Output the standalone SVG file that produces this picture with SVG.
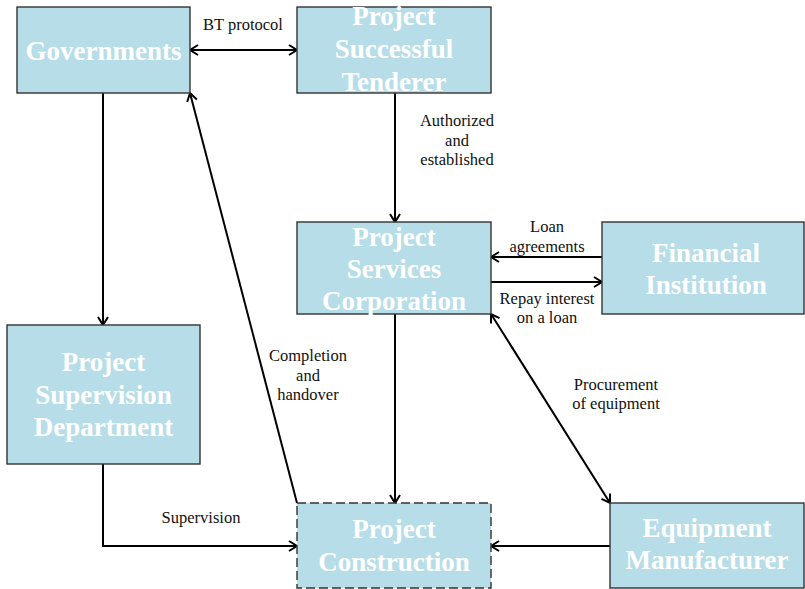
<svg xmlns="http://www.w3.org/2000/svg" width="805" height="589" viewBox="0 0 805 589">
  <style>
    .box { fill: #b7dde8; stroke: #333; stroke-width: 1.4; }
    .dashed { stroke-dasharray: 9 4; }
    .title { font-family: "Liberation Serif", "Times New Roman", serif; font-weight: bold; font-size: 27px; fill: #ffffff; text-anchor: middle; }
    .label { font-family: "Liberation Serif", "Times New Roman", serif; font-size: 16.5px; fill: #111; text-anchor: middle; }
    .conn { fill: none; stroke: #000; stroke-width: 2; }
  </style>
  <defs>
    <marker id="arrow" markerUnits="userSpaceOnUse" markerWidth="14" markerHeight="14" refX="9" refY="6" orient="auto-start-reverse">
      <path d="M1,1 L9,6 L1,11" fill="none" stroke="#000" stroke-width="2"/>
    </marker>
  </defs>

  <!-- connectors -->
  <g id="connectors">
    <line class="conn" x1="190" y1="50" x2="297" y2="50" marker-start="url(#arrow)" marker-end="url(#arrow)"/>
    <line class="conn" x1="103" y1="93" x2="103" y2="325" marker-end="url(#arrow)"/>
    <line class="conn" x1="395" y1="93" x2="395" y2="222" marker-end="url(#arrow)"/>
    <line class="conn" x1="395" y1="314" x2="395" y2="503" marker-end="url(#arrow)"/>
    <line class="conn" x1="297" y1="503" x2="190" y2="93" marker-end="url(#arrow)"/>
    <line class="conn" x1="602" y1="257" x2="491" y2="257" marker-end="url(#arrow)"/>
    <line class="conn" x1="491" y1="282" x2="602" y2="282" marker-end="url(#arrow)"/>
    <line class="conn" x1="491" y1="314" x2="610" y2="503" marker-start="url(#arrow)" marker-end="url(#arrow)"/>
    <line class="conn" x1="610" y1="546" x2="491" y2="546" marker-end="url(#arrow)"/>
    <polyline class="conn" points="103,464 103,546 297,546" marker-end="url(#arrow)"/>

    <text class="label" x="243" y="30">BT protocol</text>
    <text class="label" x="457" y="126">Authorized</text>
    <text class="label" x="457" y="146">and</text>
    <text class="label" x="457" y="165">established</text>
    <text class="label" x="547" y="232">Loan</text>
    <text class="label" x="547" y="252">agreements</text>
    <text class="label" x="547" y="304">Repay interest</text>
    <text class="label" x="547" y="323">on a loan</text>
    <text class="label" x="308" y="361">Completion</text>
    <text class="label" x="308" y="381">and</text>
    <text class="label" x="308" y="400">handover</text>
    <text class="label" x="616" y="390">Procurement</text>
    <text class="label" x="616" y="409">of equipment</text>
    <text class="label" x="201" y="523">Supervision</text>
  </g>

  <!-- nodes -->
  <g id="governments">
    <rect class="box" x="17" y="7" width="173" height="86"/>
    <text class="title" x="103.5" y="60">Governments</text>
  </g>
  <g id="tenderer">
    <rect class="box" x="297" y="7" width="194" height="86"/>
    <text class="title" x="394" y="25">Project</text>
    <text class="title" x="394" y="58">Successful</text>
    <text class="title" x="394" y="91">Tenderer</text>
  </g>
  <g id="services">
    <rect class="box" x="297" y="222" width="194" height="92"/>
    <text class="title" x="394" y="246">Project</text>
    <text class="title" x="394" y="278">Services</text>
    <text class="title" x="394" y="310">Corporation</text>
  </g>
  <g id="financial">
    <rect class="box" x="602" y="222" width="202" height="92"/>
    <text class="title" x="706" y="262">Financial</text>
    <text class="title" x="706" y="294">Institution</text>
  </g>
  <g id="supervision">
    <rect class="box" x="7" y="325" width="193" height="139"/>
    <text class="title" x="103.5" y="371">Project</text>
    <text class="title" x="103.5" y="404">Supervision</text>
    <text class="title" x="103.5" y="436">Department</text>
  </g>
  <g id="construction">
    <rect class="box dashed" x="297" y="503" width="194" height="85"/>
    <text class="title" x="394" y="538">Project</text>
    <text class="title" x="394" y="571">Construction</text>
  </g>
  <g id="equipment">
    <rect class="box" x="610" y="503" width="194" height="85"/>
    <text class="title" x="707" y="537">Equipment</text>
    <text class="title" x="707" y="569">Manufacturer</text>
  </g>
</svg>
